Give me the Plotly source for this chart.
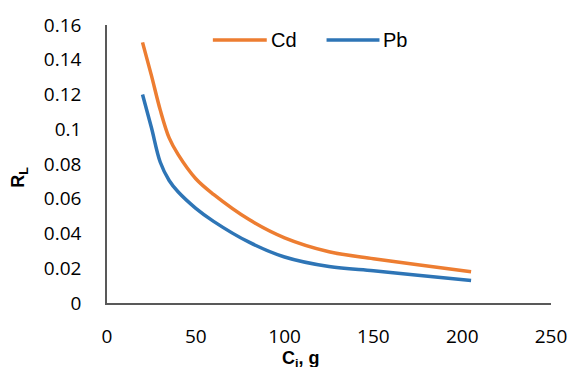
import plotly.graph_objects as go

# Initial concentration values and separation factor R_L for each metal
ci = [20, 25, 30, 35, 40, 50, 60, 80, 100, 125, 150, 175, 205]
rl_cd = [0.150, 0.131, 0.111, 0.095, 0.0855, 0.0715, 0.0625, 0.048, 0.0375, 0.0295, 0.0255, 0.022, 0.018]
rl_pb = [0.120, 0.101, 0.081, 0.0705, 0.064, 0.0545, 0.047, 0.035, 0.0265, 0.021, 0.0185, 0.016, 0.013]

series_names = ["Cd", "Pb"]
colors = ["#ED7D31", "#2E75B6"]

y_ticks = [0, 0.02, 0.04, 0.06, 0.08, 0.1, 0.12, 0.14, 0.16]
y_tick_text = ["0", "0.02", "0.04", "0.06", "0.08", "0.1", "0.12", "0.14", "0.16"]
x_ticks = [0, 50, 100, 150, 200, 250]

W, H = 579, 367
L, R, T, B = 107, 19, 25, 64

fig = go.Figure()
for name, vals, col in zip(series_names, [rl_cd, rl_pb], colors):
    fig.add_trace(go.Scatter(
        x=ci, y=vals, name=name, mode="lines",
        line=dict(color=col, width=3.5, shape="spline", smoothing=1.0),
        showlegend=False,
    ))

tick_font = dict(family="Open Sans", size=19, color="#000000")

fig.update_layout(
    width=W, height=H,
    margin=dict(l=L, r=R, t=T, b=B, pad=0),
    paper_bgcolor="white", plot_bgcolor="white",
    xaxis=dict(
        range=[0, 250], tickvals=x_ticks, showgrid=False, zeroline=False,
        showline=True, linecolor="#595959", linewidth=1.5,
        ticks="", tickfont=tick_font, ticklabelstandoff=15,
    ),
    yaxis=dict(
        range=[0, 0.16], tickvals=y_ticks, ticktext=y_tick_text,
        showgrid=False, zeroline=False,
        showline=True, linecolor="#595959", linewidth=1.5,
        ticks="", tickfont=tick_font, ticklabelstandoff=20,
    ),
)

# Manual legend: line samples and labels placed above the plot area
pw = W - L - R
ph = H - T - B

def px_to_paper_x(px):
    return (px - L) / pw

def px_to_paper_y(py):
    return (H - B - py) / ph

legend_items = [(215, 270, "Cd"), (331, 385, "Pb")]
for (x0, x1, label), col in zip(legend_items, colors):
    fig.add_shape(type="line", xref="paper", yref="paper",
                  x0=px_to_paper_x(x0), x1=px_to_paper_x(x1),
                  y0=px_to_paper_y(40), y1=px_to_paper_y(40),
                  line=dict(color=col, width=3.5))
    fig.add_annotation(xref="paper", yref="paper",
                       x=px_to_paper_x(x1 + 2), y=px_to_paper_y(40),
                       text=label, showarrow=False, xanchor="left", yanchor="middle",
                       font=dict(family="Liberation Sans", size=20, color="#000000"))

# Axis titles
fig.add_annotation(xref="paper", yref="paper",
                   x=px_to_paper_x(305), y=px_to_paper_y(359),
                   text="<b>C<sub>i</sub>, g</b>", showarrow=False,
                   xanchor="center", yanchor="middle",
                   font=dict(family="Liberation Sans", size=18, color="#000000"))
fig.add_annotation(xref="paper", yref="paper",
                   x=px_to_paper_x(18), y=px_to_paper_y(177),
                   text="<b>R<sub>L</sub></b>", showarrow=False, textangle=-90,
                   xanchor="center", yanchor="middle",
                   font=dict(family="Liberation Sans", size=18, color="#000000"))

fig.write_html("out.html")
